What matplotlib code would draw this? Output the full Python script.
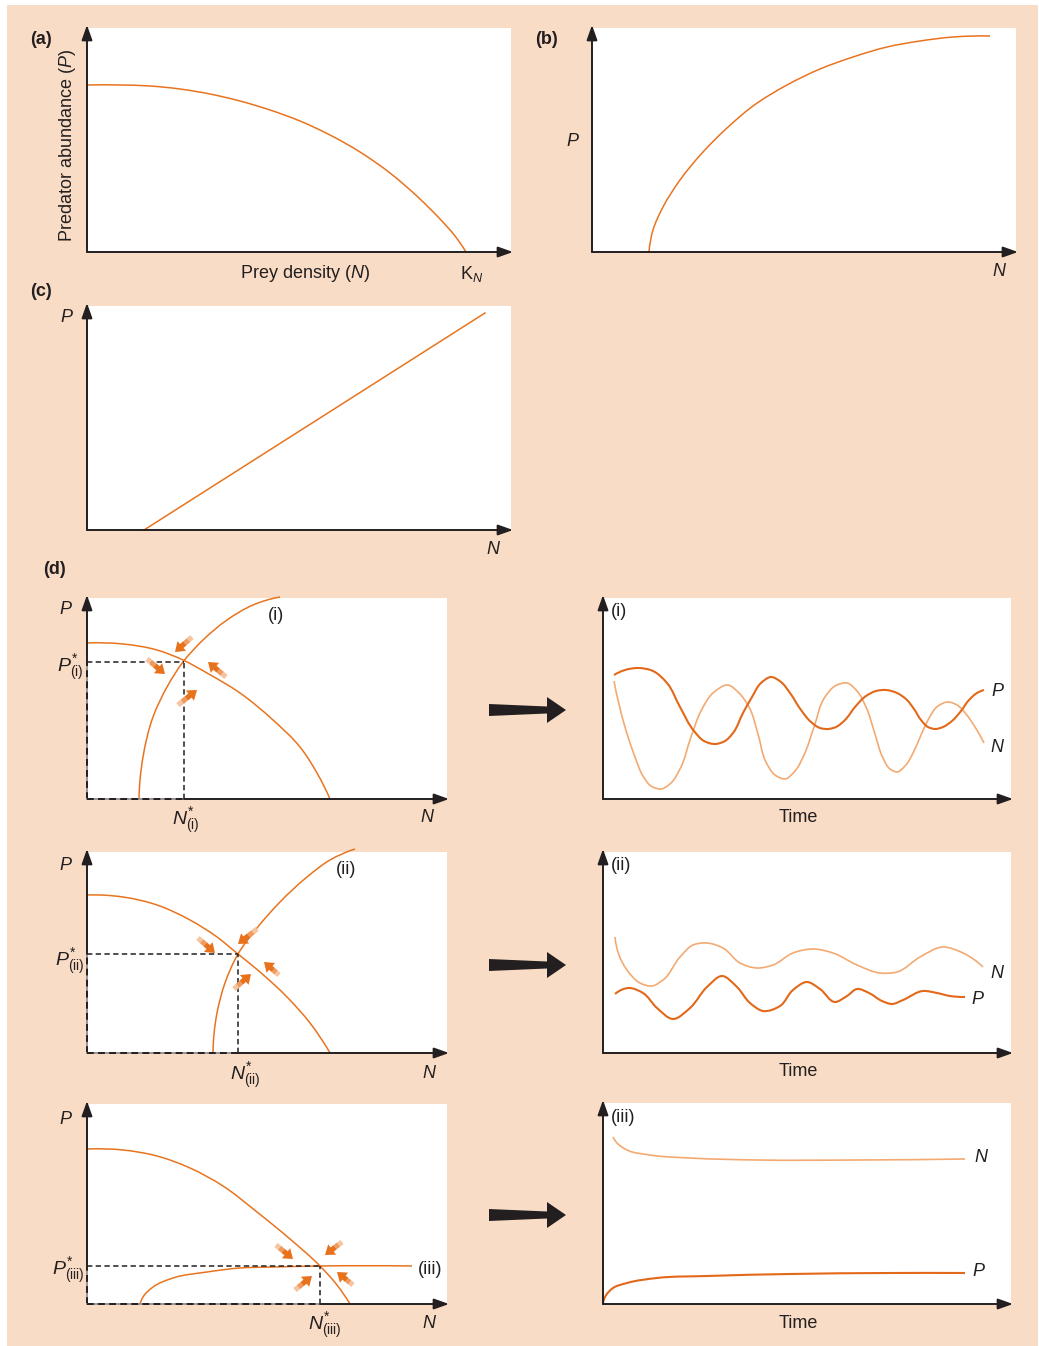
import numpy as np
import matplotlib
matplotlib.use('Agg')
import matplotlib.pyplot as plt
from matplotlib.path import Path
from matplotlib.patches import PathPatch, Polygon, Rectangle

plt.rcParams['font.family'] = ['Liberation Sans', 'DejaVu Sans']
plt.rcParams['mathtext.fontset'] = 'custom'
plt.rcParams['mathtext.rm'] = 'Liberation Sans'
plt.rcParams['mathtext.it'] = 'Liberation Sans:italic'
plt.rcParams['mathtext.bf'] = 'Liberation Sans:bold'

W, H = 1039, 1346
PEACH = '#F9DCC5'
ORANGE = '#E8741F'
DARK = '#E2681A'
LIGHT = '#F3AA72'
INK = '#231F20'
ARROW_SHADES = ['#F7C4A0', '#F09A5E', '#E8711C']

# ---------------- data (units = pixels from origin) ----
# (a) prey isocline
a_N = [0, 33, 63, 93, 123, 153, 183, 213, 243, 273, 303, 333, 353, 368, 379]
a_P = [167, 167, 166, 163, 158, 151, 142, 131, 117, 100, 79, 53, 33, 16, 0]
# (b) predator isocline
b_N = [57, 61, 71, 88, 111, 135, 161, 195, 228, 261, 295, 328, 361, 398]
b_P = [0, 22, 45, 72, 100, 124, 146, 167, 183, 195, 205, 211, 215, 216]
# (c) predator isocline (straight)
c_N = [57, 398]
c_P = [0, 217]

# (d)(i)
d1_prey_N = [0, 36, 70, 96, 120, 153, 186, 213, 230, 243]
d1_prey_P = [156, 155, 149, 139, 126, 106, 79, 52, 26, 0]
d1_pred_N = [52, 56, 66, 80, 96, 116, 140, 166, 193]
d1_pred_P = [0, 42, 82, 112, 137, 159, 179, 194, 202]
d1_eq = (97, 137)
d1_arrow_tail = [(105, 162), (60, 140), (139, 122), (91, 94)]
d1_arrow_head = [(88, 147), (78, 125), (121, 137), (110, 109)]

# (d)(ii)
d2_prey_N = [0, 36, 70, 103, 130, 151, 173, 200, 223, 243]
d2_prey_P = [158, 156, 148, 133, 116, 99, 81, 56, 30, 0]
d2_pred_N = [126, 130, 138, 151, 170, 193, 220, 243, 268]
d2_pred_P = [0, 40, 70, 99, 125, 151, 176, 193, 204]
d2_eq = (151, 99)
d2_arrow_tail = [(170, 124), (111, 115), (192, 78), (147, 64)]
d2_arrow_head = [(151, 109), (128, 100), (177, 91), (164, 79)]

# (d)(iii)
d3_prey_N = [1, 36, 70, 103, 136, 170, 203, 233, 250, 263]
d3_prey_P = [155, 154, 148, 136, 118, 92, 65, 38, 19, 0]
d3_pred_N = [53, 56, 66, 86, 120, 153, 186, 233, 325]
d3_pred_P = [0, 7, 17, 26, 32, 36, 37, 38, 38]
d3_eq = (233, 38)
d3_arrow_tail = [(189, 59), (255, 62), (208, 14), (266, 19)]
d3_arrow_head = [(206, 45), (238, 49), (225, 28), (250, 32)]

# time series (i)
ts1_tP = [11, 22, 35, 50, 64, 77, 91, 101, 112, 122, 130, 140, 149, 158, 168, 178, 187, 198, 208, 217,
          225, 233, 242, 252, 263, 273, 283, 294, 304, 311, 318, 325, 332, 340, 349, 358, 366, 374, 381]
ts1_P = [124, 129, 131, 128, 116, 92, 68, 58, 55, 58, 66, 86, 102, 116, 122, 117, 106, 89, 77, 71,
         70, 72, 79, 92, 103, 108, 109, 106, 99, 90, 79, 72, 70, 72, 78, 88, 99, 106, 109]
ts1_tN = [11, 22, 32, 40, 48, 58, 68, 77, 88, 98, 110, 125, 136, 146, 155, 163, 172, 182, 192, 201,
          211, 222, 232, 244, 254, 263, 272, 280, 287, 294, 302, 311, 318, 325, 335, 345, 354, 363, 372, 381]
ts1_N = [118, 72, 42, 23, 13, 10, 16, 30, 62, 88, 106, 114, 106, 92, 65, 37, 24, 20, 28, 44,
         72, 102, 113, 116, 108, 92, 65, 41, 30, 27, 33, 48, 64, 79, 93, 97, 94, 85, 72, 56]

# time series (ii)
ts2_tN = [12, 24, 37, 49, 60, 77, 90, 104, 120, 137, 154, 170, 190, 210, 230, 254, 277, 294, 317, 340, 360, 380]
ts2_N = [116, 83, 70, 67, 73, 96, 108, 110, 105, 90, 85, 88, 100, 104, 100, 88, 80, 81, 96, 106, 100, 86]
ts2_tP = [12, 26, 40, 54, 70, 87, 104, 119, 134, 147, 160, 177, 190, 204, 217, 232, 244, 254, 266, 279, 289, 300, 320, 334, 347, 362]
ts2_P = [59, 65, 60, 45, 34, 45, 66, 77, 66, 50, 42, 47, 63, 71, 64, 51, 57, 64, 60, 52, 49, 53, 62, 60, 57, 56]

# time series (iii)
ts3_tN = [10, 14, 24, 47, 87, 154, 254, 362]
ts3_N = [167, 161, 154, 149, 146, 144, 144, 145]
ts3_tP = [0, 2, 10, 24, 54, 104, 187, 287, 362]
ts3_P = [1, 7, 16, 21, 26, 28, 30, 31, 31]


# ---------------- helpers ----------------
def smooth_path(xs, ys):
    """Cubic Bezier path through the given points (chord-length tangents)."""
    p = np.column_stack([xs, ys]).astype(float)
    n = len(p)
    if n == 2:
        return Path(p, [Path.MOVETO, Path.LINETO])
    d = np.hypot(*np.diff(p, axis=0).T)
    T = np.zeros_like(p)
    for i in range(1, n - 1):
        a = (p[i] - p[i - 1]) / d[i - 1]
        b = (p[i + 1] - p[i]) / d[i]
        T[i] = (a * d[i] + b * d[i - 1]) / (d[i - 1] + d[i])
    T[0] = 2 * (p[1] - p[0]) / d[0] - T[1]
    T[-1] = 2 * (p[-1] - p[-2]) / d[-1] - T[-2]
    verts = [p[0]]
    codes = [Path.MOVETO]
    for i in range(n - 1):
        verts += [p[i] + T[i] * d[i] / 3, p[i + 1] - T[i + 1] * d[i] / 3, p[i + 1]]
        codes += [Path.CURVE4] * 3
    return Path(verts, codes)


def curve(ax, xs, ys, color, lw=1.1, z=3):
    ax.add_patch(PathPatch(smooth_path(xs, ys), facecolor='none', edgecolor=color,
                           lw=lw, clip_on=False, zorder=z, capstyle='butt'))


def panel(x0, x1, ytop, ybot):
    ax = fig.add_axes([x0 / W, 1 - ybot / H, (x1 - x0) / W, (ybot - ytop) / H])
    ax.set_xlim(0, x1 - x0)
    ax.set_ylim(0, ybot - ytop)
    ax.set_facecolor('white')
    for s in ax.spines.values():
        s.set_visible(False)
    ax.set_xticks([])
    ax.set_yticks([])
    return ax


def axis_arrows(ax, xstart=0, ystart=0):
    w = ax.get_xlim()[1]
    h = ax.get_ylim()[1]
    props = dict(arrowstyle='-|>,head_length=0.9,head_width=0.32', color=INK,
                 lw=1.4, shrinkA=0, shrinkB=0)
    ax.annotate('', xy=(0, h + 3), xytext=(0, ystart), arrowprops=props,
                annotation_clip=False, zorder=10)
    ax.annotate('', xy=(w + 2, 0), xytext=(xstart, 0), arrowprops=props,
                annotation_clip=False, zorder=10)


def equilibrium(ax, eq):
    n, p = eq
    ls = (0, (3.5, 2.2))
    ax.plot([0, n], [p, p], color=INK, lw=1.1, ls=ls, zorder=4)
    ax.plot([n, n], [0, p], color=INK, lw=1.1, ls=ls, zorder=4)
    # dashed axis segments
    ax.plot([0, 0], [0, p], color='#9a9492', lw=1.4, clip_on=False, zorder=9)
    ax.plot([0, 0], [0, p], color=INK, lw=1.4, ls=ls, clip_on=False, zorder=9)
    ax.plot([0, n], [0, 0], color='#9a9492', lw=1.4, clip_on=False, zorder=9)
    ax.plot([0, n], [0, 0], color=INK, lw=1.4, ls=ls, clip_on=False, zorder=9)
    axis_arrows(ax, xstart=n, ystart=p)


def flow_arrows(ax, tails, heads):
    sw, hw, hl = 2.6, 6.5, 9.0
    for tail, head in zip(tails, heads):
        t = np.array(tail, float)
        h = np.array(head, float)
        L = np.hypot(*(h - t))
        u = (h - t) / L
        nrm = np.array([-u[1], u[0]])
        base = h - u * hl
        m1 = t + u * 0.35 * (L - hl)
        m2 = t + u * 0.7 * (L - hl)
        segs = [(t, m1), (m1, m2)]
        for (a, b), col in zip(segs, ARROW_SHADES[:2]):
            ax.add_patch(Polygon([a + nrm * sw, b + nrm * sw, b - nrm * sw, a - nrm * sw],
                                 closed=True, facecolor=col, edgecolor='none',
                                 clip_on=False, zorder=6))
        ax.add_patch(Polygon([m2 + nrm * sw, base + nrm * sw, base + nrm * hw, h,
                              base - nrm * hw, base - nrm * sw, m2 - nrm * sw],
                             closed=True, facecolor=ARROW_SHADES[2], edgecolor='none',
                             clip_on=False, zorder=6))


# ---------------- figure ----------------
fig = plt.figure(figsize=(W / 100, H / 100), dpi=100)
fig.patch.set_facecolor('white')
fig.patches.append(Rectangle((7 / W, 0), 1031 / W, 1341 / H, transform=fig.transFigure,
                             facecolor=PEACH, edgecolor='none', zorder=-10))

# (a)
ax = panel(87, 511, 28, 252)
axis_arrows(ax)
curve(ax, a_N, a_P, ORANGE)

# (b)
ax = panel(592, 1016, 28, 252)
axis_arrows(ax)
curve(ax, b_N, b_P, ORANGE)

# (c)
ax = panel(87, 511, 306, 530)
axis_arrows(ax)
ax.plot(c_N, c_P, color=ORANGE, lw=1.1)

# (d) phase planes
ax = panel(87, 447, 598, 799)
equilibrium(ax, d1_eq)
curve(ax, d1_prey_N, d1_prey_P, ORANGE)
curve(ax, d1_pred_N, d1_pred_P, ORANGE)
flow_arrows(ax, d1_arrow_tail, d1_arrow_head)

ax = panel(87, 447, 852, 1053)
equilibrium(ax, d2_eq)
curve(ax, d2_prey_N, d2_prey_P, ORANGE)
curve(ax, d2_pred_N, d2_pred_P, ORANGE)
flow_arrows(ax, d2_arrow_tail, d2_arrow_head)

ax = panel(87, 447, 1104, 1304)
equilibrium(ax, d3_eq)
curve(ax, d3_prey_N, d3_prey_P, ORANGE)
curve(ax, d3_pred_N, d3_pred_P, ORANGE)
flow_arrows(ax, d3_arrow_tail, d3_arrow_head)

# (d) time series
ax = panel(603, 1011, 598, 799)
axis_arrows(ax)
curve(ax, ts1_tN, ts1_N, LIGHT, lw=1.2)
curve(ax, ts1_tP, ts1_P, DARK, lw=1.5)

ax = panel(603, 1011, 852, 1053)
axis_arrows(ax)
curve(ax, ts2_tN, ts2_N, LIGHT, lw=1.2)
curve(ax, ts2_tP, ts2_P, DARK, lw=1.5)

ax = panel(603, 1011, 1103, 1304)
axis_arrows(ax)
curve(ax, ts3_tN, ts3_N, LIGHT, lw=1.2)
curve(ax, ts3_tP, ts3_P, DARK, lw=1.5)

# ---------------- overlay for labels and big arrows ----------------
ov = fig.add_axes([0, 0, 1, 1])
ov.set_xlim(0, W)
ov.set_ylim(H, 0)
ov.axis('off')

FS = 13


def T(x, y, s, **kw):
    kw.setdefault('fontsize', FS)
    kw.setdefault('ha', 'center')
    kw.setdefault('va', 'center')
    ov.text(x, y, s, color=INK, **kw)


# panel letters
for x, y, s in [(41, 40, '(a)'), (547, 40, '(b)'), (41, 292, '(c)'), (54, 570, '(d)')]:
    T(x, y, s, fontweight='bold')

# (a)
T(305, 273, 'Prey density ($N$)')
T(472, 274, 'K$_{N}$')
T(67, 145, 'Predator abundance ($P$)', rotation=90)
# (b)
T(573, 141, '$P$')
T(1000, 272, '$N$')
# (c)
T(67, 318, '$P$')
T(494, 550, '$N$')

# (d) phase plane labels
T(66, 609, '$P$'); T(428, 818, '$N$')
T(66, 865, '$P$'); T(430, 1073, '$N$')
T(66, 1119, '$P$'); T(430, 1324, '$N$')
T(276, 615, '(i)')
T(346, 869, '(ii)')
T(430, 1269, '(iii)')
T(70, 668, r'$P^{*}_{\mathrm{(i)}}$', fontsize=14)
T(70, 962, r'$P^{*}_{\mathrm{(ii)}}$', fontsize=14)
T(68, 1271, r'$P^{*}_{\mathrm{(iii)}}$', fontsize=14)
T(186, 821, r'$N^{*}_{\mathrm{(i)}}$', fontsize=14)
T(245, 1076, r'$N^{*}_{\mathrm{(ii)}}$', fontsize=14)
T(325, 1326, r'$N^{*}_{\mathrm{(iii)}}$', fontsize=14)

# time-series labels
T(611, 612, '(i)', ha='left')
T(611, 866, '(ii)', ha='left')
T(611, 1117, '(iii)', ha='left')
T(998, 692, '$P$'); T(998, 747, '$N$')
T(998, 973, '$N$'); T(978, 999, '$P$')
T(982, 1158, '$N$'); T(979, 1272, '$P$')
for y in (818, 1072, 1323):
    T(798, y, 'Time')

# big black arrows
for cy in (710, 965, 1215):
    pts = [(489, cy - 6), (547, cy - 3.5), (547, cy - 13), (566, cy),
           (547, cy + 13), (547, cy + 3.5), (489, cy + 6)]
    ov.add_patch(Polygon(pts, closed=True, facecolor=INK, edgecolor='none'))

fig.savefig('out.png', dpi=100, facecolor=fig.get_facecolor())
